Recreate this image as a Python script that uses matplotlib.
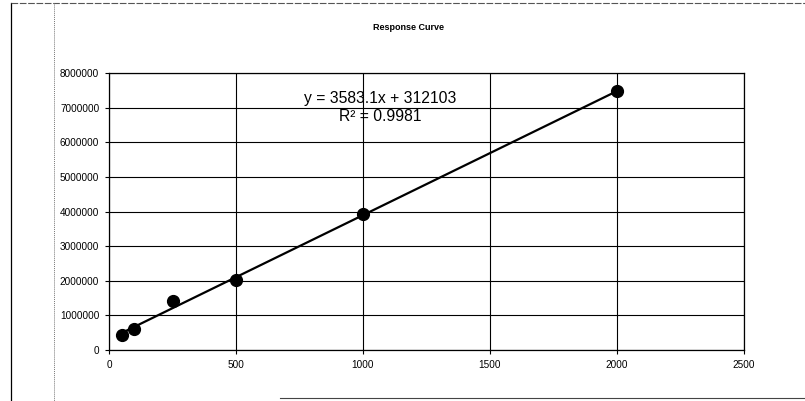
import matplotlib
matplotlib.use("Agg")
import matplotlib.pyplot as plt
from matplotlib.lines import Line2D

# Calibration standards: concentration vs. detector response
concentration = [50, 100, 250, 500, 1000, 2000]
response = [420000, 600000, 1420000, 2020000, 3920000, 7470000]

# Linear trendline coefficients and fit quality
slope = 3583.1
intercept = 312103
r_squared = 0.9981

x_ticks = [0, 500, 1000, 1500, 2000, 2500]
y_ticks = [0, 1000000, 2000000, 3000000, 4000000, 5000000, 6000000, 7000000, 8000000]

plt.rcParams['font.family'] = ['Liberation Sans', 'DejaVu Sans']

fig = plt.figure(figsize=(8.05, 4.01), dpi=100)
ax = fig.add_axes([109 / 805, 1 - 350 / 401, (744 - 109) / 805, (350 - 73) / 401])

ax.set_xlim(x_ticks[0], x_ticks[-1])
ax.set_ylim(y_ticks[0], y_ticks[-1])
ax.set_xticks(x_ticks)
ax.set_yticks(y_ticks)
ax.set_xticklabels([str(v) for v in x_ticks], fontsize=7.2)
ax.set_yticklabels([str(v) for v in y_ticks], fontsize=7.2)
ax.tick_params(axis='both', length=3, width=0.8, color='black', direction='out')
ax.tick_params(axis='y', pad=4)
ax.tick_params(axis='x', pad=4)

ax.grid(True, color='black', linewidth=0.8)
ax.set_axisbelow(True)
for side in ax.spines.values():
    side.set_color('black')
    side.set_linewidth(0.9)

# Trendline over the range of the standards
x0, x1 = min(concentration), max(concentration)
ax.plot([x0, x1], [slope * x0 + intercept, slope * x1 + intercept],
        color='black', linewidth=1.6, zorder=3)
ax.plot(concentration, response, linestyle='none', marker='o',
        markersize=8.5, color='black', zorder=4)

ax.text(380 / 805, 1 - 99 / 401, f"y = {slope}x + {intercept}",
        transform=fig.transFigure, ha='center', va='center', fontsize=11.3)
ax.text(380 / 805, 1 - 117 / 401, f"R² = {r_squared}",
        transform=fig.transFigure, ha='center', va='center', fontsize=11.3)

fig.text(408 / 805, 1 - 27 / 401, "Response Curve", ha='center', va='center',
         fontsize=6.5, fontweight='bold')

# Chart-area frame lines
fig.add_artist(Line2D([11 / 805, 11 / 805], [1 - 3 / 401, 0], transform=fig.transFigure,
                      color='black', linewidth=0.9))
fig.add_artist(Line2D([11 / 805, 1], [1 - 2.5 / 401, 1 - 2.5 / 401], transform=fig.transFigure,
                      color='#555555', linewidth=0.8, linestyle=(0, (6, 1.5))))
fig.add_artist(Line2D([54 / 805, 54 / 805], [1 - 3 / 401, 0], transform=fig.transFigure,
                      color='#777777', linewidth=0.7, linestyle=(0, (1, 1))))
fig.add_artist(Line2D([280 / 805, 1], [1 - 398 / 401, 1 - 398 / 401], transform=fig.transFigure,
                      color='#444444', linewidth=0.8))

fig.savefig("out.png", dpi=100)
